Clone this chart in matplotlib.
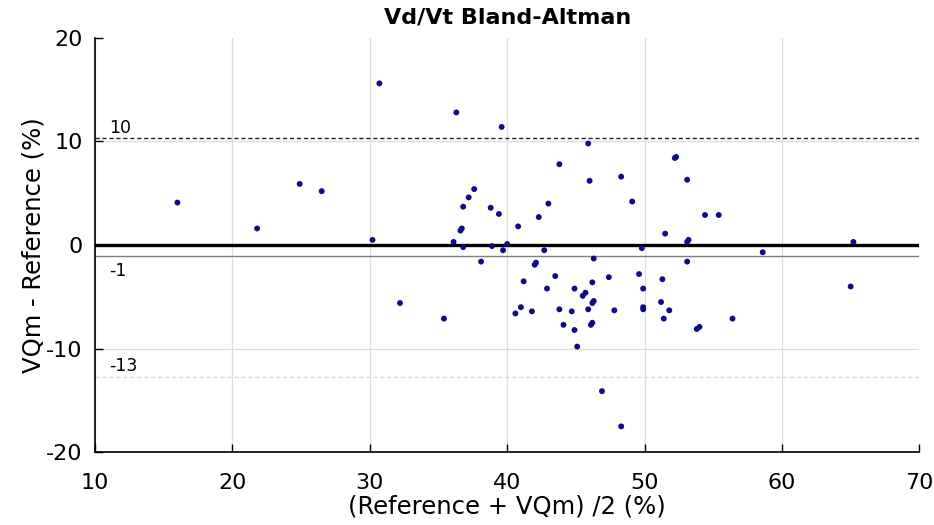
import numpy as np
import matplotlib
matplotlib.use('Agg')
import matplotlib.pyplot as plt

plt.rcParams['font.family'] = ['DejaVu Sans']
plt.rcParams['axes.unicode_minus'] = False

# ── data ──────────────────────────────────────────────────────────
mean_pct = [16.0, 21.8, 24.9, 26.5, 30.7, 30.2, 36.3, 36.1, 36.6, 36.7,
            36.8, 36.8, 37.2, 37.6, 32.2, 35.4, 38.1, 38.8, 39.4, 38.9,
            39.7, 40.0, 40.8, 42.3, 43.0, 42.7, 42.0, 42.1, 43.8, 41.2,
            43.5, 42.9, 41.0, 40.6, 41.8, 43.8, 44.9, 45.7, 45.5, 46.2,
            47.4, 49.6, 49.9, 51.3, 53.1, 58.6, 44.7, 46.2, 46.3, 47.8,
            49.9, 49.9, 51.2, 51.8, 51.4, 44.1, 44.9, 46.1, 46.2, 45.1,
            53.8, 54.0, 56.4, 65.0, 46.9, 48.3, 39.6, 45.9, 52.2, 52.3,
            46.0, 48.3, 53.1, 49.1, 49.8, 51.5, 53.1, 53.2, 54.4, 55.4,
            65.2, 46.3, 45.9]
diff_pct = [4.1, 1.6, 5.9, 5.2, 15.6, 0.5, 12.8, 0.3, 1.4, 1.6,
            -0.2, 3.7, 4.6, 5.4, -5.6, -7.1, -1.6, 3.6, 3.0, -0.1,
            -0.5, 0.1, 1.8, 2.7, 4.0, -0.5, -1.9, -1.7, 7.8, -3.5,
            -3.0, -4.2, -6.0, -6.6, -6.4, -6.2, -4.2, -4.6, -4.9, -3.6,
            -3.1, -2.8, -4.2, -3.3, -1.6, -0.7, -6.4, -5.6, -5.4, -6.3,
            -6.2, -6.0, -5.5, -6.3, -7.1, -7.7, -8.2, -7.7, -7.5, -9.8,
            -8.1, -7.9, -7.1, -4.0, -14.1, -17.5, 11.4, 9.8, 8.4, 8.5,
            6.2, 6.6, 6.3, 4.2, -0.3, 1.1, 0.3, 0.5, 2.9, 2.9,
            0.3, -1.3, -6.2]

bias = -1.1
loa_upper = 10.3
loa_lower = -12.7

# ── plot ──────────────────────────────────────────────────────────
fig = plt.figure(figsize=(9.34, 5.25), dpi=100)
ax = fig.add_axes([0.1017, 0.1385, 0.8826, 0.7895])

ax.set_xlim(10, 70)
ax.set_ylim(-20, 20)
ax.set_xticks(range(10, 71, 10))
ax.set_yticks(range(-20, 21, 10))

ax.grid(True, color='#dcdcdc', linewidth=0.9)
ax.set_axisbelow(True)
ax.get_ygridlines()[-1].set_visible(False)

ax.axhline(0, color='black', linewidth=2.4, zorder=2)
ax.axhline(bias, color='#808080', linewidth=1.0, zorder=2)
ax.axhline(loa_upper, color='#222222', linewidth=1.0, linestyle=(0, (3, 2)), zorder=2)
ax.axhline(loa_lower, color='#d8d8d8', linewidth=1.0, linestyle=(0, (3, 2)), zorder=2)

ax.text(11.0, loa_upper + 0.15, f'{round(loa_upper):d}', fontsize=12.5, va='bottom', ha='left')
ax.text(11.0, bias - 0.5, f'{round(bias):d}', fontsize=12.5, va='top', ha='left')
ax.text(11.0, loa_lower + 0.2, f'{round(loa_lower):d}', fontsize=12.5, va='bottom', ha='left')

ax.scatter(mean_pct, diff_pct, s=18, color='#0c0c85', edgecolors='none', zorder=3)

ax.spines['top'].set_visible(False)
ax.spines['right'].set_visible(False)
ax.spines['left'].set_linewidth(1.2)
ax.spines['bottom'].set_linewidth(1.2)
ax.tick_params(direction='in', length=6, width=1, labelsize=16)
ax.tick_params(axis='x', pad=15)
ax.tick_params(axis='y', pad=9)

ax.set_title('Vd/Vt Bland-Altman', fontsize=16, fontweight='bold', pad=10)
ax.set_xlabel('(Reference + VQm) /2 (%)', fontsize=17.5, labelpad=1)
ax.set_ylabel('VQm - Reference (%)', fontsize=17.5, labelpad=0)

fig.savefig('out.png', dpi=100)
